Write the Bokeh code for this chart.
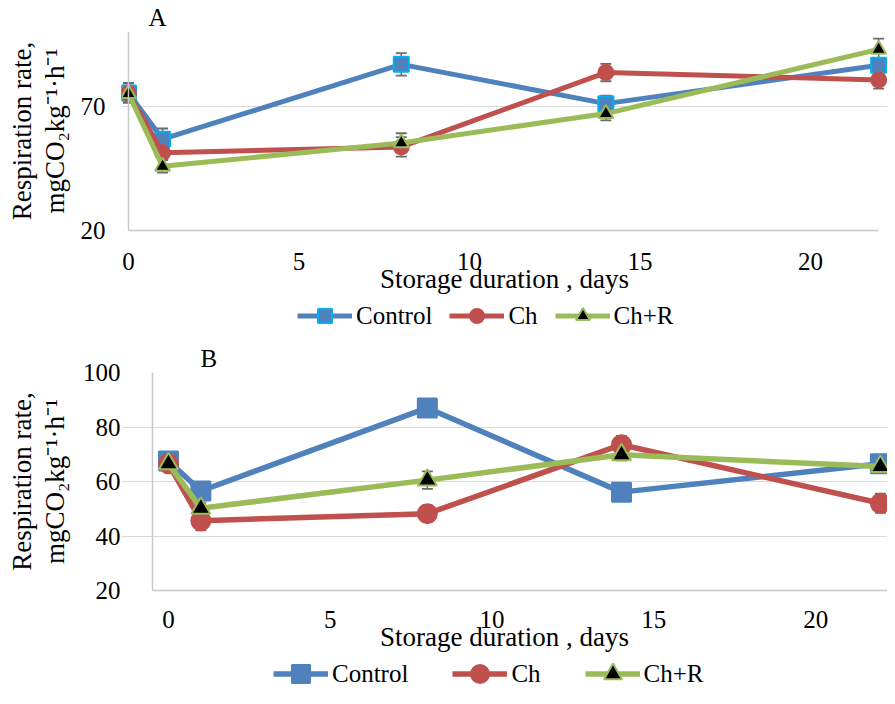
from bokeh.plotting import figure
from bokeh.models import (Range1d, FixedTicker, ColumnDataSource, Whisker, TeeHead,
                          Legend, LegendItem, Span, LinearAxis, Title)
from bokeh.layouts import column
from bokeh.embed import file_html
from bokeh.resources import INLINE

# ---------------- data ----------------
days = [0, 1, 8, 14, 22]
series_names = ["Control", "Ch", "Ch+R"]

# Panel A
a_control = [75.3, 56.7, 86.8, 71.0, 86.4]
a_ch = [75.2, 51.3, 53.6, 83.5, 80.5]
a_chr = [75.0, 45.8, 55.2, 67.0, 92.8]
a_control_err = [4.0, 4.3, 4.5, 3.2, 3.0]
a_ch_err = [3.0, 2.5, 3.9, 3.5, 3.5]
a_chr_err = [3.0, 2.5, 3.9, 2.7, 4.3]
a_yticks = [20, 70]

# Panel B
b_control = [67.5, 56.5, 87.0, 56.1, 66.5]
b_ch = [66.5, 45.6, 48.2, 73.5, 52.0]
b_chr = [66.5, 50.2, 60.5, 69.8, 65.5]
b_control_err = [2.0, 2.5, 2.0, 2.0, 2.0]
b_ch_err = [2.0, 3.5, 3.0, 3.2, 3.5]
b_chr_err = [2.0, 2.0, 3.2, 2.0, 2.0]
b_yticks = [20, 40, 60, 80, 100]

x_ticks = [0, 5, 10, 15, 20]

ylabel_line1 = "Respiration rate,"
ylabel_line2 = "mgCO\u2082kg\u207b\u00b9\u00b7h\u207b\u00b9"
xlabel = "Storage duration , days"

# layout constants (axis positions in data units)
A_X0, A_X1 = -0.205, 22.26
B_X0, B_X1 = -1.452, 22.22
B_AXIS_X = -0.494
FRAME_LEFT = 121

FONT = "Liberation Serif"
BLUE = "#4F81BD"
RED = "#C0504D"
GREEN = "#9BBB59"
CYAN = "#00B0F0"
ERR = "#6B6B6B"
AXC = "#C8C8C8"


def style_axis(ax):
    ax.major_tick_line_color = None
    ax.minor_tick_line_color = None
    ax.major_tick_out = 0
    ax.major_tick_in = 0
    ax.minor_tick_out = 0
    ax.minor_tick_in = 0
    ax.major_label_text_font = FONT
    ax.major_label_text_font_size = "25px"
    ax.major_label_text_color = "#000000"
    ax.axis_label_text_font = FONT
    ax.axis_label_text_font_size = "27px"
    ax.axis_label_text_font_style = "normal"
    ax.axis_label_text_color = "#000000"
    ax.axis_line_color = AXC
    ax.axis_line_width = 1.5


def style_plot(p, yticks, tick_standoff_y, ylab_standoff, xl_standoff, xl_label_standoff,
               title, offset, axis_x, xbounds):
    p.outline_line_color = None
    p.xgrid.visible = False
    p.ygrid.ticker = FixedTicker(ticks=yticks)
    p.ygrid.grid_line_color = "#D9D9D9"
    p.ygrid.grid_line_width = 1.2
    p.xaxis.ticker = FixedTicker(ticks=x_ticks)
    p.yaxis.ticker = FixedTicker(ticks=yticks)
    style_axis(p.xaxis[0])
    style_axis(p.yaxis[0])
    p.yaxis[0].axis_line_color = None
    p.yaxis.major_label_standoff = tick_standoff_y
    p.yaxis.axis_label = ylabel_line2
    p.yaxis.axis_label_standoff = ylab_standoff
    outer = LinearAxis(ticker=FixedTicker(ticks=[]), axis_label=ylabel_line1)
    style_axis(outer)
    outer.axis_line_color = None
    outer.major_label_text_color = None
    outer.major_label_standoff = 0
    outer.axis_label_standoff = 0
    p.add_layout(outer, "left")
    p.xaxis.major_label_standoff = xl_standoff
    p.xaxis.axis_label = xlabel
    p.xaxis.axis_label_standoff = xl_label_standoff
    p.xaxis.bounds = xbounds
    p.add_layout(Span(location=axis_x, dimension="height", line_color=AXC, line_width=1.5))
    p.add_layout(Title(text=title, align="left", offset=offset, text_font=FONT,
                       text_font_size="25px", text_font_style="normal",
                       text_color="#000000", standoff=2), "above")


def series_specs(vals, ctrl_line):
    return [
        (vals[0], BLUE, "square", BLUE, ctrl_line),
        (vals[1], RED, "circle", RED, RED),
        (vals[2], GREEN, "triangle", "black", GREEN),
    ]


def add_series(p, vals, errs, msize, lw, ctrl_line):
    for (v, col, mk, fill, outline), e in zip(series_specs(vals, ctrl_line), errs):
        src = ColumnDataSource(dict(x=days, y=v,
                                    lo=[a - b for a, b in zip(v, e)],
                                    hi=[a + b for a, b in zip(v, e)]))
        w = Whisker(source=src, base="x", lower="lo", upper="hi",
                    line_color=ERR, line_width=1.5,
                    upper_head=TeeHead(size=11, line_color=ERR, line_width=1.8),
                    lower_head=TeeHead(size=11, line_color=ERR, line_width=1.8))
        p.add_layout(w)
        p.line("x", "y", source=src, line_color=col, line_width=lw)
        p.scatter("x", "y", source=src, marker=mk, size=msize,
                  fill_color=fill, line_color=outline, line_width=2)


def legend_figure(vals, height, glyph_h, lw, ctrl_line, spacing, loc):
    # a strip that only carries the legend; its renderers use the real series,
    # which lie outside this strip's ranges so that only the legend shows
    lf = figure(width=887, height=height, output_backend="svg", toolbar_location=None,
                x_range=Range1d(100, 101), y_range=Range1d(-2, -1),
                x_axis_location=None, y_axis_location=None,
                min_border=0, min_border_left=FRAME_LEFT, min_border_right=0,
                min_border_top=0, min_border_bottom=0)
    lf.grid.visible = False
    lf.outline_line_color = None
    items = []
    for name, (v, col, mk, fill, outline) in zip(series_names, series_specs(vals, ctrl_line)):
        src = ColumnDataSource(dict(x=days, y=v))
        ln = lf.line("x", "y", source=src, line_color=col, line_width=lw)
        sc = lf.scatter("x", "y", source=src, marker=mk, size=10,
                        fill_color=fill, line_color=outline, line_width=2)
        items.append(LegendItem(label=name, renderers=[ln, sc]))
    lg = Legend(items=items, orientation="horizontal", location=loc,
                label_text_font=FONT, label_text_font_size="25px",
                label_text_color="#000000",
                glyph_width=55, glyph_height=glyph_h, label_height=glyph_h,
                label_standoff=4, spacing=spacing, margin=0, padding=0,
                border_line_color=None, background_fill_alpha=0)
    lf.add_layout(lg)
    return lf


# ---------------- Panel A ----------------
pa = figure(width=887, height=300, output_backend="svg", toolbar_location=None,
            x_range=Range1d(A_X0, A_X1), y_range=Range1d(20, 100),
            min_border_left=FRAME_LEFT, min_border_right=0, min_border_top=30,
            min_border_bottom=70)
style_plot(pa, a_yticks, 16, 8, 22, -9, "A", 27, 0, (0, 22))
add_series(pa, [a_control, a_ch, a_chr], [a_control_err, a_ch_err, a_chr_err], 15, 5, CYAN)
la = legend_figure([a_control, a_ch, a_chr], 30, 35, 5, CYAN, 17, (176, -3))

# ---------------- Panel B ----------------
pb = figure(width=887, height=328, output_backend="svg", toolbar_location=None,
            x_range=Range1d(B_X0, B_X1), y_range=Range1d(20, 100),
            min_border_left=FRAME_LEFT, min_border_right=0, min_border_top=42,
            min_border_bottom=68)
style_plot(pb, b_yticks, 1, 10, 20, -9, "B", 79, B_AXIS_X, (B_AXIS_X, B_X1))
add_series(pb, [b_control, b_ch, b_chr], [b_control_err, b_ch_err, b_chr_err], 19, 5.5, BLUE)
lb = legend_figure([b_control, b_ch, b_chr], 30, 45, 5.5, BLUE, 44, (152, -8))

layout = column(pa, la, pb, lb, spacing=0)
open("out.html", "w").write(file_html(layout, INLINE))
